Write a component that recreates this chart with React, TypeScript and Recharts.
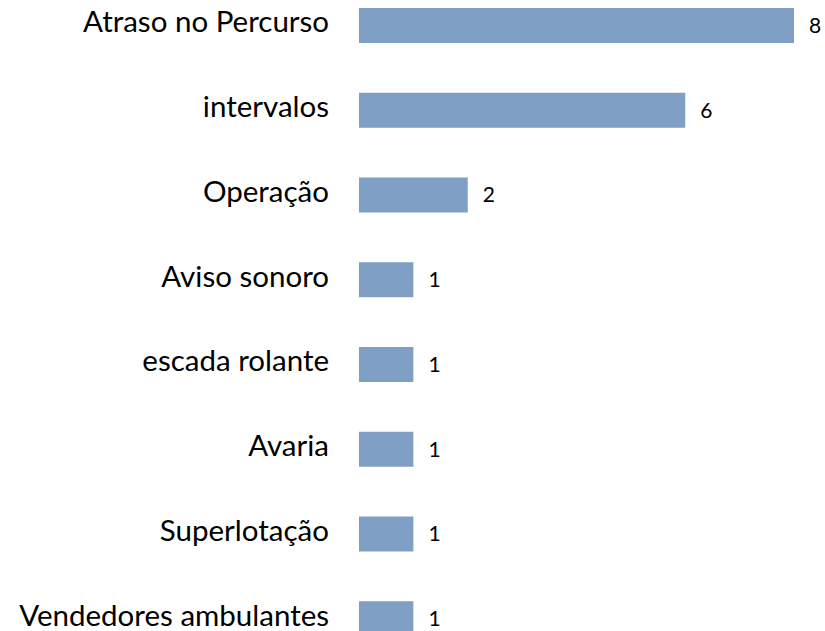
import React from "react";
import { BarChart, Bar, XAxis, YAxis, LabelList } from "recharts";

const categories = [
  "Atraso no Percurso",
  "intervalos",
  "Operação",
  "Aviso sonoro",
  "escada rolante",
  "Avaria",
  "Superlotação",
  "Vendedores ambulantes",
];
const counts = [8, 6, 2, 1, 1, 1, 1, 1];

const data = categories.map((name, i) => ({ name, value: counts[i] }));

const CategoryTick = (props: any) => {
  const { x, y, payload } = props;
  return (
    <text x={x} y={y + 7} textAnchor="end" fontFamily="Lato" fontSize={29.5} fill="#000">
      {payload.value}
    </text>
  );
};

export default function App() {
  return (
    <div style={{ position: "absolute", left: 0, top: 0, width: 825, height: 631, overflow: "hidden", background: "#fff" }}>
      <div style={{ position: "absolute", left: 0, top: -17 }}>
        <BarChart
          width={825}
          height={678}
          data={data}
          layout="vertical"
          margin={{ top: 0, right: 31, bottom: 0, left: 0 }}
          barCategoryGap={25}
        >
          <XAxis type="number" domain={[0, 8]} hide />
          <YAxis
            type="category"
            dataKey="name"
            width={359}
            axisLine={false}
            tickLine={false}
            tickSize={0}
            tickMargin={30}
            tick={<CategoryTick />}
          />
          <Bar dataKey="value" fill="#7F9FC4" isAnimationActive={false}>
            <LabelList
              dataKey="value"
              position="right"
              offset={15}
              style={{ fontFamily: "Lato", fontSize: 21, fill: "#000" }}
            />
          </Bar>
        </BarChart>
      </div>
    </div>
  );
}
